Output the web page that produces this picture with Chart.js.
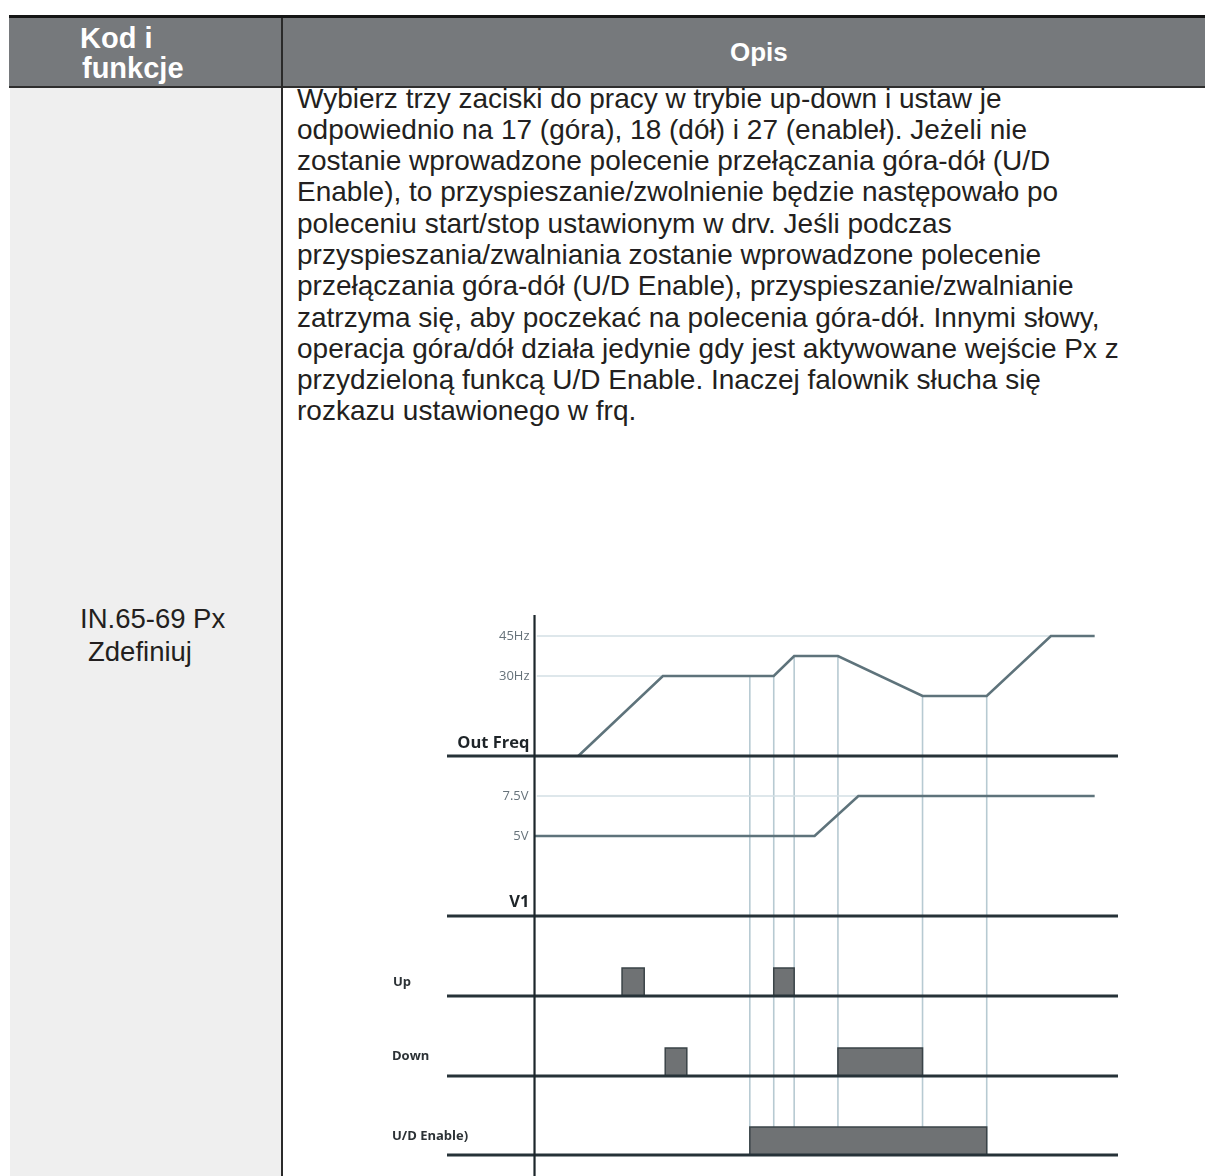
<!DOCTYPE html>
<html><head><meta charset="utf-8">
<script src="https://cdn.jsdelivr.net/npm/chart.js@4.4.0/dist/chart.umd.min.js"></script>
<style>
html,body{margin:0;padding:0;background:#fff;}
#page{position:relative;width:1205px;height:1176px;overflow:hidden;font-family:"Liberation Sans",Arial,sans-serif;color:#231f20;}
#topline{position:absolute;left:9px;top:15px;width:1196px;height:3px;background:#151515;}
#header{position:absolute;left:9px;top:18px;width:1196px;height:68px;background:#76797c;}
#hline{position:absolute;left:9px;top:86px;width:1196px;height:1.5px;background:#2e2e2e;}
#leftcol{position:absolute;left:10px;top:88px;width:271px;height:1100px;background:#efefef;}
#divider{position:absolute;left:281px;top:18px;width:1.5px;height:1160px;background:#2a2a2a;}
.h{position:absolute;color:#fff;font-weight:bold;font-size:29px;line-height:30px;white-space:nowrap;}
#body{position:absolute;left:297px;top:82.5px;font-size:28px;line-height:31.3px;white-space:nowrap;}
.lbl{position:absolute;font-size:27.5px;line-height:32px;white-space:nowrap;}
#chartbox{position:absolute;left:380px;top:600px;width:760px;height:576px;}
</style></head>
<body><div id="page">
<div id="topline"></div><div id="header"></div><div id="hline"></div>
<div id="leftcol"></div><div id="divider"></div>
<div class="h" style="left:80px;top:23px;">Kod i</div>
<div class="h" style="left:82px;top:53px;">funkcje</div>
<div class="h" style="left:730px;top:37px;font-size:26px;">Opis</div>
<div id="body">Wybierz trzy zaciski do pracy w trybie up-down i ustaw je<br>odpowiednio na 17 (góra), 18 (dół) i 27 (enableł). Jeżeli nie<br>zostanie wprowadzone polecenie przełączania góra-dół (U/D<br>Enable), to przyspieszanie/zwolnienie będzie następowało po<br>poleceniu start/stop ustawionym w drv. Jeśli podczas<br>przyspieszania/zwalniania zostanie wprowadzone polecenie<br>przełączania góra-dół (U/D Enable), przyspieszanie/zwalnianie<br>zatrzyma się, aby poczekać na polecenia góra-dół. Innymi słowy,<br>operacja góra/dół działa jedynie gdy jest aktywowane wejście Px z<br>przydzieloną funkcą U/D Enable. Inaczej falownik słucha się<br>rozkazu ustawionego w frq.</div>
<div class="lbl" style="left:80px;top:603px;">IN.65-69 Px</div>
<div class="lbl" style="left:88px;top:636px;">Zdefiniuj</div>
<div id="chartbox"><canvas id="c" width="760" height="576"></canvas></div>
</div>
<script>
// ---- data ----
const freqTime = [7.5, 22, 41, 44.5, 52, 66.5, 77.5, 88.5, 96];
const freqHz   = [0, 30, 30, 37.5, 37.5, 22.5, 22.5, 45, 45];
const freqTickValues = [30, 45];
const freqTickLabels = ['30Hz', '45Hz'];
const v1Time = [0, 48, 55.5, 96];
const v1Volt = [5, 5, 7.5, 7.5];
const v1TickValues = [5, 7.5];
const v1TickLabels = ['5V', '7.5V'];
const upPulses = [[15, 18.8], [41, 44.5]];
const downPulses = [[22.4, 26.1], [52, 66.5]];
const enablePulses = [[36.9, 77.5]];
const eventTimes = [36.9, 41, 44.5, 52, 66.5, 77.5];
const laneNames = ['Out Freq', 'V1', 'Up', 'Down', 'U/D Enable)'];

// ---- layout (canvas px) ----
const AREA_TOP = 15, AREA_BOTTOM = 576;
function lane(basePx, unitPx) {
  return { min: -(AREA_BOTTOM - basePx) / unitPx, max: (basePx - AREA_TOP) / unitPx };
}
const laneFreq = lane(156, 120 / 45);
const laneV1 = lane(316, 16);
const laneUp = lane(396, 28);
const laneDown = lane(476, 28);
const laneEn = lane(555, 28);

const X_MIN = -15, X_MAX = 100;
const pts = (xs, ys) => xs.map((x, i) => ({ x, y: ys[i] }));
const pulsePts = (pulses) => {
  const out = [];
  pulses.forEach(([s, e]) => { out.push({x:s,y:0},{x:s,y:1},{x:e,y:1},{x:e,y:0}); });
  return out;
};
const firstTimeAt = (ts, vs, level) => ts[vs.indexOf(level)];
const valueAt = (ts, vs, t) => {
  for (let i = 0; i < ts.length - 1; i++) {
    if (t >= ts[i] && t <= ts[i + 1]) {
      const f = (t - ts[i]) / (ts[i + 1] - ts[i]);
      return vs[i] + f * (vs[i + 1] - vs[i]);
    }
  }
  return vs[vs.length - 1];
};

const BASE = '#263238', CURVE = '#5e737b', REF = '#d3dfe4', PULSE = '#6f7274', PULSE_EDGE = '#3a4347';
const baseline = (axis) => ({ data: [{x:X_MIN,y:0},{x:X_MAX,y:0}], yAxisID: axis, borderColor: BASE, borderWidth: 2.8, pointRadius: 0, fill: false });
const refLine = (axis, ts, vs, level) => ({ data: [{x:0.4,y:level},{x:firstTimeAt(ts, vs, level),y:level}], yAxisID: axis, borderColor: REF, borderWidth: 1.5, pointRadius: 0, fill: false });
const pulseSet = (axis, pulses) => ({ data: pulsePts(pulses), yAxisID: axis, borderColor: PULSE_EDGE, borderWidth: 1.5, backgroundColor: PULSE, pointRadius: 0, fill: 'origin' });

const datasets = [
  baseline('yFreq'), baseline('yV1'), baseline('yUp'), baseline('yDown'), baseline('yEn'),
  pulseSet('yUp', upPulses), pulseSet('yDown', downPulses), pulseSet('yEn', enablePulses),
  { data: pts(freqTime, freqHz), yAxisID: 'yFreq', borderColor: CURVE, borderWidth: 2.6, pointRadius: 0, fill: false },
  { data: pts(v1Time, v1Volt), yAxisID: 'yV1', borderColor: CURVE, borderWidth: 2.6, pointRadius: 0, fill: false },
  ...freqTickValues.map(v => refLine('yFreq', freqTime, freqHz, v)),
  refLine('yV1', v1Time, v1Volt, 7.5),
];

const diagramPlugin = {
  id: 'diagram',
  beforeDatasetsDraw(chart) {
    const {ctx, scales} = chart;
    const x = scales.x, yF = scales.yFreq, yE = scales.yEn;
    ctx.save();
    ctx.strokeStyle = '#b7cad2';
    ctx.lineWidth = 1.6;
    eventTimes.forEach(t => {
      const px = x.getPixelForValue(t);
      ctx.beginPath();
      ctx.moveTo(px, yF.getPixelForValue(valueAt(freqTime, freqHz, t)));
      ctx.lineTo(px, yE.getPixelForValue(0));
      ctx.stroke();
    });
    ctx.restore();
  },
  afterDatasetsDraw(chart) {
    const {ctx, scales, chartArea} = chart;
    const x0 = scales.x.getPixelForValue(0);
    ctx.save();
    ctx.strokeStyle = '#1c262b';
    ctx.lineWidth = 2.2;
    ctx.beginPath();
    ctx.moveTo(x0, chartArea.top);
    ctx.lineTo(x0, chart.height);
    ctx.stroke();
    // tick labels
    ctx.fillStyle = '#66727a';
    ctx.font = '13px "Open Sans", "DejaVu Sans", sans-serif';
    ctx.textAlign = 'right';
    ctx.textBaseline = 'middle';
    freqTickValues.forEach((v, i) => ctx.fillText(freqTickLabels[i], x0 - 5, scales.yFreq.getPixelForValue(v)));
    v1TickValues.forEach((v, i) => ctx.fillText(v1TickLabels[i], x0 - 6, scales.yV1.getPixelForValue(v)));
    // lane labels
    ctx.fillStyle = '#1e2428';
    ctx.textBaseline = 'alphabetic';
    ctx.font = 'bold 16.5px "Open Sans", "DejaVu Sans", sans-serif';
    ctx.fillText(laneNames[0], x0 - 5, scales.yFreq.getPixelForValue(0) - 8);
    ctx.fillText(laneNames[1], x0 - 5, scales.yV1.getPixelForValue(0) - 9);
    ctx.textAlign = 'left';
    ctx.textBaseline = 'middle';
    ctx.font = 'bold 13px "Open Sans", "DejaVu Sans", sans-serif';
    ctx.fillStyle = '#2c3236';
    ctx.fillText(laneNames[2], 13, scales.yUp.getPixelForValue(0) - 14);
    ctx.fillText(laneNames[3], 12, scales.yDown.getPixelForValue(0) - 20);
    ctx.fillText(laneNames[4], 12, scales.yEn.getPixelForValue(0) - 19);
    ctx.restore();
  }
};

const hidden = (r) => ({ type: 'linear', display: false, min: r.min, max: r.max });
new Chart(document.getElementById('c'), {
  type: 'line',
  data: { datasets },
  options: {
    responsive: false,
    animation: false,
    parsing: false,
    layout: { padding: { left: 67, right: 22, top: AREA_TOP, bottom: 0 } },
    plugins: { legend: { display: false }, tooltip: { enabled: false }, title: { display: false } },
    elements: { line: { tension: 0 } },
    scales: {
      x: { type: 'linear', display: false, min: X_MIN, max: X_MAX },
      yFreq: hidden(laneFreq), yV1: hidden(laneV1), yUp: hidden(laneUp), yDown: hidden(laneDown), yEn: hidden(laneEn)
    }
  },
  plugins: [diagramPlugin]
});
</script>
</body></html>
